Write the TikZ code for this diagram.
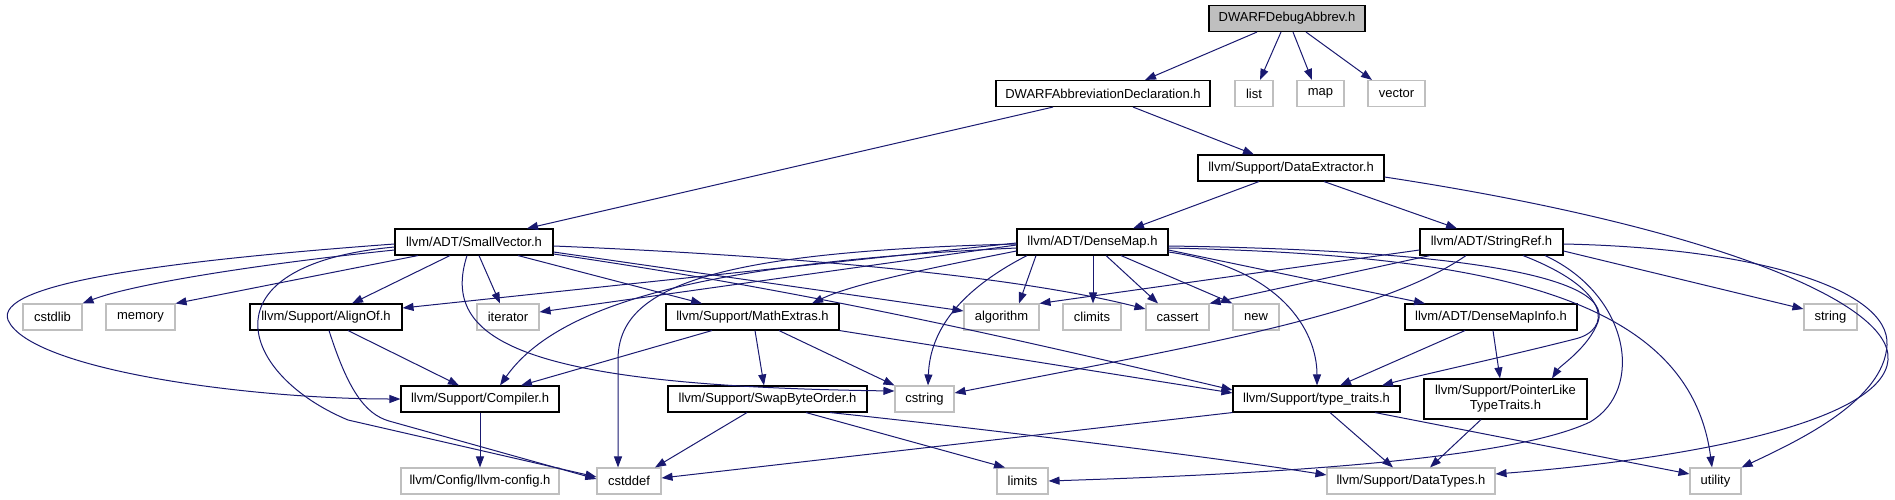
\documentclass[tikz,border=0pt]{standalone}
\usepackage{fontspec}
\setmainfont{Liberation Sans}
\usepackage{tikz}
\usetikzlibrary{arrows.meta}
\definecolor{edgeblue}{HTML}{191970}
\definecolor{boxgray}{HTML}{BFBFBF}
\tikzset{
  inc/file/.style={draw=black, line width=1.1pt, rectangle, inner sep=0pt, minimum height=26pt, align=center, font=\fontsize{13}{15}\selectfont},
  inc/sys/.style={inc/file, draw=boxgray},
  inc/root/.style={inc/file, fill=boxgray},
  inc/edge/.style={draw=edgeblue, line width=1pt, -{Triangle[length=11pt,width=8pt]}}
}

\begin{document}
\begin{tikzpicture}[x=1pt, y=-1pt]
\useasboundingbox (0,0) rectangle (1895,500);

% files
\node[inc/root, minimum width=156pt] (root) at (1287,18.5) {DWARFDebugAbbrev.h};
\node[inc/file, minimum width=214pt] (decl) at (1103,93.5) {DWARFAbbreviationDeclaration.h};
\node[inc/sys, minimum width=38pt] (list) at (1254,93.5) {list};
\node[inc/sys, minimum width=47pt] (map) at (1320.5,93.5) {map};
\node[inc/sys, minimum width=57pt] (vector) at (1396.5,93.5) {vector};
\node[inc/file, minimum width=186pt] (extract) at (1291,168) {llvm/Support/DataExtractor.h};
\node[inc/file, minimum width=158pt] (smallvec) at (474,242) {llvm/ADT/SmallVector.h};
\node[inc/file, minimum width=151pt] (densemap) at (1092.5,242) {llvm/ADT/DenseMap.h};
\node[inc/file, minimum width=143pt] (stringref) at (1491.5,242) {llvm/ADT/StringRef.h};
\node[inc/sys, minimum width=59pt] (cstdlib) at (52.5,317) {cstdlib};
\node[inc/sys, minimum width=69pt] (memory) at (140.5,317) {memory};
\node[inc/file, minimum width=152pt] (alignof) at (326,317) {llvm/Support/AlignOf.h};
\node[inc/sys, minimum width=62pt] (iterator) at (508,317) {iterator};
\node[inc/file, minimum width=173pt] (mathextras) at (752.5,317) {llvm/Support/MathExtras.h};
\node[inc/sys, minimum width=75pt] (algorithm) at (1001.5,317) {algorithm};
\node[inc/sys, minimum width=58pt] (climits) at (1092,317) {climits};
\node[inc/sys, minimum width=63pt] (cassert) at (1177.5,317) {cassert};
\node[inc/sys, minimum width=46pt] (new) at (1256,317) {new};
\node[inc/file, minimum width=172pt] (densemapinfo) at (1491,317) {llvm/ADT/DenseMapInfo.h};
\node[inc/sys, minimum width=53pt] (string) at (1830.5,317) {string};
\node[inc/file, minimum width=158pt] (compiler) at (480,399) {llvm/Support/Compiler.h};
\node[inc/file, minimum width=199pt] (swap) at (767.5,399) {llvm/Support/SwapByteOrder.h};
\node[inc/sys, minimum width=59pt] (cstring) at (924.5,399) {cstring};
\node[inc/file, minimum width=167pt] (ttraits) at (1316.5,399) {llvm/Support/type\_traits.h};
\node[inc/file, minimum width=163pt, minimum height=40pt] (pointerlike) at (1505.5,399) {llvm/Support/PointerLike\\TypeTraits.h};
\node[inc/sys, minimum width=158pt] (llvmconfig) at (480,481) {llvm/Config/llvm-config.h};
\node[inc/sys, minimum width=64pt] (cstddef) at (629,481) {cstddef};
\node[inc/sys, minimum width=51pt] (limits) at (1022.5,481) {limits};
\node[inc/sys, minimum width=168pt] (datatypes) at (1411,481) {llvm/Support/DataTypes.h};
\node[inc/sys, minimum width=51pt] (utility) at (1715.5,481) {utility};

% DWARFDebugAbbrev.h
\draw[inc/edge] (root.south -| 1257,0) -- (decl.north -| 1145,0);
\draw[inc/edge] (root.south -| 1281,0) -- (list.north -| 1260,0);
\draw[inc/edge] (root.south -| 1293,0) -- (map.north -| 1312,0);
\draw[inc/edge] (root.south -| 1306,0) -- (vector.north -| 1372,0);

% DWARFAbbreviationDeclaration.h
\draw[inc/edge] (decl.south -| 1053,0) -- (smallvec.north -| 527,0);
\draw[inc/edge] (decl.south -| 1133,0) -- (extract.north -| 1254,0);

% DataExtractor.h
\draw[inc/edge] (extract.south -| 1259,0) -- (densemap.north -| 1133,0);
\draw[inc/edge] (extract.south -| 1324,0) -- (stringref.north -| 1457,0);
\draw[inc/edge] (extract.east |- 0,177) .. controls (1700,225) and (1893,300) .. (1888,360)
  .. controls (1883,420) and (1700,458) .. (datatypes.east |- 0,474);

% SmallVector.h
\draw[inc/edge] (smallvec.west |- 0,250) .. controls (250,265) and (130,285) .. (cstdlib.north east);
\draw[inc/edge] (smallvec.south -| 418,0) -- (memory.north east);
\draw[inc/edge] (smallvec.south -| 450,0) -- (alignof.north -| 352,0);
\draw[inc/edge] (smallvec.south -| 479,0) -- (iterator.north -| 500,0);
\draw[inc/edge] (smallvec.west |- 0,244) .. controls (150,262) and (-5,285) .. (8,320)
  .. controls (30,370) and (250,399) .. (compiler.west |- 0,399);
\draw[inc/edge] (smallvec.west |- 0,247) .. controls (200,265) and (240,375) .. (348,420) -- (cstddef.west |- 0,477);
\draw[inc/edge] (smallvec.south -| 467,0) .. controls (440,340) and (520,386) .. (cstring.west |- 0,391);
\draw[inc/edge] (smallvec.south -| 518,0) -- (mathextras.north -| 702,0);
\draw[inc/edge] (smallvec.east |- 0,252) -- (algorithm.west |- 0,311);
\draw[inc/edge] (smallvec.east |- 0,246) .. controls (750,254) and (1000,272) .. (cassert.west |- 0,309);
\draw[inc/edge] (smallvec.east |- 0,254) .. controls (800,290) and (1000,335) .. (ttraits.west |- 0,390);

% DenseMap.h
\draw[inc/edge] (densemap.east |- 0,248) .. controls (1500,255) and (1690,300) .. (utility.north -| 1712,0);
\draw[inc/edge] (densemap.east |- 0,246) .. controls (1450,250) and (1615,275) .. (1598,322)
  .. controls (1588,348) and (1560,366) .. (pointerlike.north -| 1552,0);
\draw[inc/edge] (densemap.east |- 0,250) -- (densemapinfo.north -| 1425,0);
\draw[inc/edge] (densemap.east |- 0,252) .. controls (1280,268) and (1317,330) .. (ttraits.north -| 1317,0);
\draw[inc/edge] (densemap.south -| 1036,0) -- (algorithm.north -| 1019,0);
\draw[inc/edge] (densemap.south -| 1093,0) -- (climits.north -| 1093,0);
\draw[inc/edge] (densemap.south -| 1106,0) -- (cassert.north -| 1158,0);
\draw[inc/edge] (densemap.south -| 1121,0) -- (new.north west);
\draw[inc/edge] (densemap.west |- 0,245) -- (iterator.east |- 0,312);
\draw[inc/edge] (densemap.west |- 0,243) -- (alignof.east |- 0,308);
\draw[inc/edge] (densemap.west |- 0,251) .. controls (920,270) and (850,285) .. (mathextras.north -| 812,0);
\draw[inc/edge] (densemap.west |- 0,244) .. controls (700,252) and (618,290) .. (618,360) -- (cstddef.north -| 618,0);
\draw[inc/edge] (densemap.west |- 0,248) .. controls (720,262) and (560,300) .. (compiler.north -| 500,0);
\draw[inc/edge] (densemap.south -| 1027,0) .. controls (960,290) and (930,330) .. (cstring.north -| 928,0);

% StringRef.h
\draw[inc/edge] (stringref.east |- 0,244) .. controls (1760,248) and (1890,290) .. (1887,345)
  .. controls (1884,400) and (1800,440) .. (utility.north east);
\draw[inc/edge] (stringref.east |- 0,251) -- (string.west |- 0,309);
\draw[inc/edge] (stringref.south -| 1545,0) .. controls (1630,295) and (1645,390) .. (1590,422)
  .. controls (1500,465) and (1200,476) .. (limits.east |- 0,481);
\draw[inc/edge] (stringref.south -| 1523,0) .. controls (1612,290) and (1612,330) .. (1575,339)
  .. controls (1500,358) and (1420,375) .. (ttraits.north -| 1382,0);
\draw[inc/edge] (stringref.south -| 1466,0) .. controls (1380,315) and (1200,345) .. (cstring.east |- 0,393);
\draw[inc/edge] (stringref.west |- 0,250) -- (algorithm.north east);
\draw[inc/edge] (stringref.south -| 1430,0) -- (cassert.north east);

% AlignOf.h, MathExtras.h
\draw[inc/edge] (alignof.south -| 329,0) .. controls (348,390) and (365,414) .. (389,421) -- (cstddef.west |- 0,479);
\draw[inc/edge] (alignof.south -| 348,0) -- (compiler.north -| 459,0);
\draw[inc/edge] (mathextras.south east) -- (ttraits.west |- 0,393);
\draw[inc/edge] (mathextras.south -| 712,0) -- (compiler.north -| 521,0);
\draw[inc/edge] (mathextras.south -| 755,0) -- (swap.north -| 764,0);
\draw[inc/edge] (mathextras.south -| 779,0) -- (cstring.north west);

% lower rows
\draw[inc/edge] (compiler) -- (llvmconfig);
\draw[inc/edge] (swap.south -| 747,0) -- (cstddef.north -| 655,0);
\draw[inc/edge] (swap.south -| 806,0) -- (limits.north -| 1005,0);
\draw[inc/edge] (swap.south -| 830,0) .. controls (950,425) and (1200,455) .. (datatypes.west |- 0,475);
\draw[inc/edge] (ttraits.south west) -- (cstddef.east |- 0,478);
\draw[inc/edge] (ttraits.south -| 1330,0) -- (datatypes.north -| 1393,0);
\draw[inc/edge] (ttraits.south -| 1375,0) -- (utility.west |- 0,474);
\draw[inc/edge] (pointerlike.south -| 1481,0) -- (datatypes.north -| 1430,0);
\draw[inc/edge] (densemapinfo.south -| 1465,0) -- (ttraits.north -| 1340,0);
\draw[inc/edge] (densemapinfo.south -| 1493,0) -- (pointerlike.north -| 1500,0);
\end{tikzpicture}
\end{document}
